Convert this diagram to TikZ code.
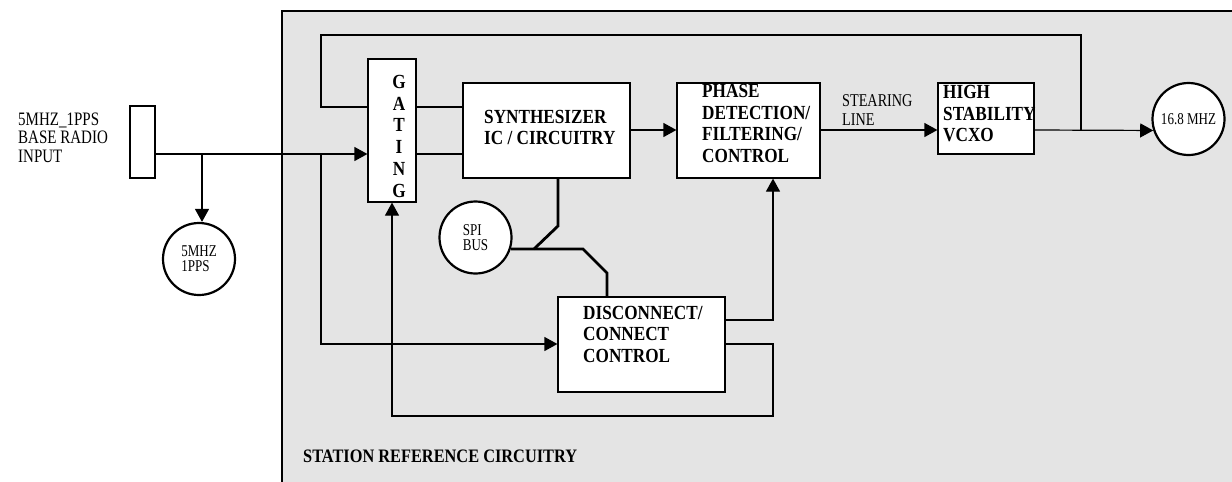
\documentclass[tikz,border=0pt]{standalone}
\usepackage{fontspec}
\setmainfont{Liberation Serif}
\newfontfamily\regfont[FakeStretch=0.79]{Liberation Serif}
\newfontfamily\boldfont[FakeStretch=0.86]{Liberation Serif}
\usetikzlibrary{arrows.meta,calc}
\definecolor{panelgray}{HTML}{E4E4E4}

\begin{document}
\begin{tikzpicture}[x=1pt,y=-1pt,
  wire/.style={line width=1.2pt},
  bus/.style={line width=2.8pt, line join=miter},
  arr/.style={-{Triangle[length=13pt,width=14pt]}},
  block/.style={draw, line width=1.2pt, fill=white, inner sep=0pt},
  disk/.style={circle, draw, line width=2.2pt, fill=white, minimum size=72pt,
    inner sep=0pt, align=left, font=\regfont\fontsize{16.5}{15}\selectfont},
  btxt/.style={anchor=north west, inner sep=0pt, align=left,
    font=\boldfont\bfseries\fontsize{20}{21.7}\selectfont},
  rtxt/.style={anchor=north west, inner sep=0pt, align=left,
    font=\regfont\fontsize{19}{18.7}\selectfont}
]
\useasboundingbox (0,0) rectangle (1232,482);

% station panel
\fill[panelgray] (282,11) rectangle (1232,482);
\draw[line width=1.5pt] (1232,11) -- (282,11) -- (282,482);

% input side
\node[draw, line width=1.2pt, inner sep=0pt, minimum width=25pt, minimum height=72pt] (inp) at (142.5,142) {};
\node[rtxt] (inptxt) at (18,112.4) {5MHZ\_1PPS\\BASE RADIO\\INPUT};
\node[disk] (c5) at (199,259) {5MHZ\\1PPS};

% blocks
\node[block, minimum width=48pt, minimum height=143pt] (gating) at (392,130.5) {};
\node[btxt, anchor=north, align=center] (gtxt) at (399,75.1) {G\\A\\T\\I\\N\\G};
\node[block, minimum width=167pt, minimum height=95pt] (synth) at (546.5,130.5) {};
\node[btxt] (synthtxt) at (484,109.8) {SYNTHESIZER\\IC / CIRCUITRY};
\node[block, minimum width=143pt, minimum height=95pt] (phase) at (748.5,130.5) {};
\node[btxt] (phasetxt) at (702,84.1) {PHASE\\DETECTION/\\FILTERING/\\CONTROL};
\node[block, minimum width=96pt, minimum height=71pt] (vcxo) at (986,118.5) {};
\node[btxt] (vcxotxt) at (943,85.1) {HIGH\\STABILITY\\VCXO};
\node[block, minimum width=167pt, minimum height=95pt] (disc) at (641.5,344.5) {};
\node[btxt] (disctxt) at (583,305.8) {DISCONNECT/\\CONNECT\\CONTROL};
\node[disk] (spi) at (475.5,237.5) {SPI\\BUS};
\node[disk, align=center] (out) at (1188.5,119) {16.8 MHZ};

\node[anchor=north west, inner sep=0pt, align=left,
  font=\regfont\fontsize{18}{18.3}\selectfont] (steer) at (842,94.8) {STEARING\\LINE};
\node[btxt, font=\boldfont\bfseries\fontsize{19}{20}\selectfont] (station) at (303,449.4) {STATION REFERENCE CIRCUITRY};

% junction points
\coordinate (j1) at (202,154);
\coordinate (j2) at (321,154);
\coordinate (g1) at (321,107);
\coordinate (k1) at (1081,130);
\coordinate (lt) at (321,35);
\coordinate (d1) at (773,320);
\coordinate (d2) at (773,344);
\coordinate (lb) at (773,416);
\coordinate (s1) at (558,226);
\coordinate (s2) at (534,249);
\coordinate (s3) at (583,249);
\coordinate (s4) at (607,273);

% signal path
\draw[wire] (inp.east |- j1) -- (j2);
\draw[wire,arr] (j2) -- (gating.west |- j2);
\draw[wire,arr] (j1) -- (j1 |- c5.north);
\draw[wire,arr] (j2) |- (disc.west |- d2);
\draw[wire] (gating.east |- g1) -- (synth.west |- g1);
\draw[wire] (gating.east |- j1) -- (synth.west |- j1);
\draw[wire,arr] (synth.east |- k1) -- (phase.west |- k1);
\draw[wire,arr] (phase.east |- k1) -- (vcxo.west |- k1);
\draw[wire,arr] (vcxo.east |- k1) -- (out.198);

% feedback loop to gating
\draw[wire] (k1) |- (lt) |- (gating.west |- g1);

% disconnect / connect control outputs
\draw[wire,arr] (disc.east |- d1) -- (d1) -- (d1 |- phase.south);
\draw[wire,arr] (disc.east |- d2) -- (d2) -- (lb) -| (gating.south);

% SPI bus
\draw[bus] (synth.south -| s1) -- (s1) -- (s2);
\draw[bus] (spi.-18) -- (s3) -- (s4) -- (disc.north -| s4);
\end{tikzpicture}
\end{document}
